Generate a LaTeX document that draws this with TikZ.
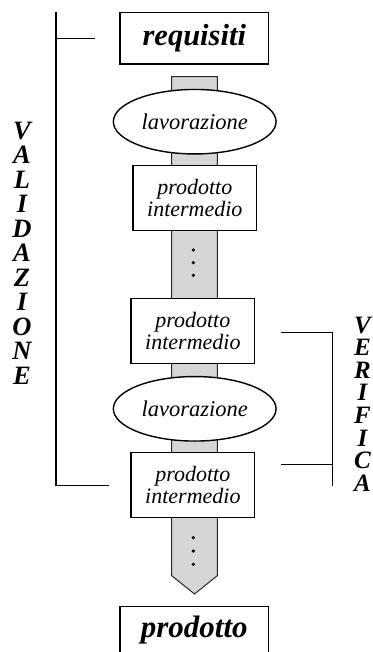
\documentclass[tikz,border=0pt]{standalone}
\usepackage{fontspec}
\setmainfont{Liberation Serif}
\usetikzlibrary{shapes.geometric}
\begin{document}
\begin{tikzpicture}[x=1pt,y=-1pt,
  box/.style={draw,line width=1.4pt,fill=white,rectangle,inner sep=0pt},
  bigbox/.style={box,minimum width=148.7pt,minimum height=51.7pt,font=\fontsize{30.5}{32}\selectfont\bfseries\itshape},
  pibox/.style={box,minimum width=123.7pt,minimum height=65pt,align=center,font=\fontsize{22}{21.5}\selectfont\itshape},
  lav/.style={draw,line width=1.4pt,fill=white,ellipse,inner sep=0pt,minimum width=162.7pt,minimum height=64.5pt,font=\fontsize{22.5}{24}\selectfont\itshape},
  dotmark/.style={circle,fill=black,inner sep=0pt,minimum size=3.6pt},
  brk/.style={line width=1.5pt},
  band/.style={draw=black!85,line width=1pt,fill=black!16},
  vlet/.style={align=center,inner sep=0pt,font=\fontsize{26.5}{24.5}\selectfont\bfseries\itshape}]
\useasboundingbox (0,0) rectangle (372,652);
% grey band with arrow tip
\path[band] (171.7,76.7) -- (217.3,76.7) -- (217.3,575.7) -- (194.5,594) -- (171.7,575.7) -- cycle;
% nodes
\node[bigbox] (req) at (194.3,38.2) {requisiti};
\node[lav] (l1) at (194.7,121.7) {lavorazione};
\node[pibox] (p1) at (194.8,198.2) {prodotto\\intermedio};
\node[dotmark] (d1a) at (193.3,250) {};
\node[dotmark] (d1b) at (193.3,262.7) {};
\node[dotmark] (d1c) at (193.3,275.3) {};
\node[pibox] (p2) at (192.85,330.8) {prodotto\\intermedio};
\node[lav] (l2) at (194.7,408.8) {lavorazione};
\node[pibox] (p3) at (192.85,484.8) {prodotto\\intermedio};
\node[dotmark] (d2a) at (193.3,537.7) {};
\node[dotmark] (d2b) at (193.3,551) {};
\node[dotmark] (d2c) at (193.3,564.3) {};
\node[box,minimum width=148.7pt,minimum height=47.3pt,font=\fontsize{31}{32}\selectfont\bfseries\itshape] (prod) at (194.3,630.4) {prodotto};
% validazione bracket
\coordinate (vtop) at (56,12.3);
\coordinate (vbot) at (56,485.7);
\coordinate (vt1) at (56,38.3);
\coordinate (vt2) at (95.3,38.3);
\coordinate (vb2) at (108.7,485.7);
\draw[brk] (vtop) -- (vbot) -- (vb2);
\draw[brk] (vt1) -- (vt2);
\node[vlet] (val) at (22,253) {V\\A\\L\\I\\D\\A\\Z\\I\\O\\N\\E};
% verifica bracket
\coordinate (ftop) at (332.7,332.3);
\coordinate (fbot) at (332.7,485.7);
\coordinate (ft1) at (280.7,332.3);
\coordinate (fm1) at (280.7,464.3);
\coordinate (fm2) at (332.7,464.3);
\draw[brk] (ft1) -- (ftop) -- (fbot);
\draw[brk] (fm1) -- (fm2);
\node[vlet,font=\fontsize{25}{22.6}\selectfont\bfseries\itshape] (ver) at (362.5,404) {V\\E\\R\\I\\F\\I\\C\\A};
\end{tikzpicture}
\end{document}
